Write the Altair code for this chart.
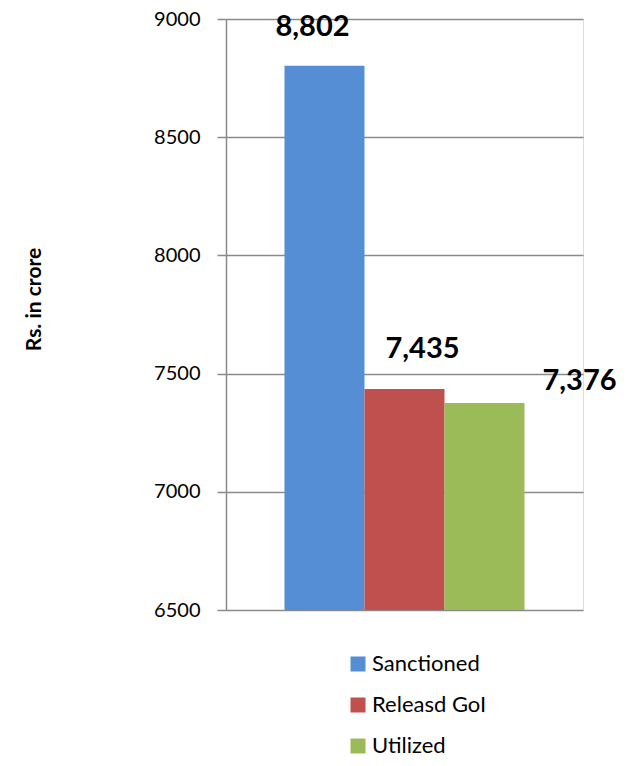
import altair as alt
import pandas as pd

categories = ["Sanctioned", "Releasd GoI", "Utilized"]
values = [8802, 7435, 7376]
colors = ["#558ED5", "#C0504D", "#9BBB59"]
y_ticks = [6500, 7000, 7500, 8000, 8500, 9000]

df = pd.DataFrame({"series": categories, "value": values})

# label offsets (styling, per series)
label_offsets = {
    "Sanctioned": (-12, -30),
    "Releasd GoI": (18, -31),
    "Utilized": (95, -13),
}

FONT = "Lato"

base = alt.Chart(df)

bars = base.mark_bar(clip=True).encode(
    x=alt.X("series:N", sort=categories, axis=None,
            scale=alt.Scale(paddingInner=0, paddingOuter=0.731)),
    y=alt.Y("value:Q",
            scale=alt.Scale(domain=[6500, 9000], zero=False, nice=False),
            axis=alt.Axis(values=y_ticks, format="d", title="Rs. in crore",
                          titleFont=FONT, titleFontSize=21, titleFontWeight="bold",
                          titleColor="black", titleAngle=-90,
                          titleX=-192, titleY=280, titleAlign="center",
                          titleBaseline="middle",
                          labelFont=FONT, labelFontSize=20, labelColor="black",
                          labelPadding=17, tickSize=9, tickColor="#8a8a8a",
                          tickWidth=1.5, domainColor="#8a8a8a", domainWidth=1.5,
                          grid=True, gridColor="#8a8a8a", gridWidth=1.5)),
    color=alt.Color("series:N", sort=categories,
                    scale=alt.Scale(domain=categories, range=colors),
                    legend=alt.Legend(title=None, orient="none", legendX=121,
                                      legendY=634, symbolType="square",
                                      symbolSize=225, symbolStrokeWidth=0,
                                      labelFont=FONT, labelFontSize=22,
                                      labelColor="black", rowPadding=19,
                                      labelOffset=3)),
)

labels = []
for cat in categories:
    dx, dy = label_offsets[cat]
    labels.append(
        base.transform_filter(alt.datum.series == cat).mark_text(
            font=FONT, fontSize=29, fontWeight="bold", color="black",
            baseline="alphabetic", align="center", dx=dx, dy=dy,
        ).encode(
            x=alt.X("series:N", sort=categories),
            y=alt.Y("value:Q"),
            text=alt.Text("value:Q", format=","),
        )
    )

chart = alt.layer(bars, *labels).properties(
    width=357, height=591,
    autosize=alt.AutoSizeParams(type="none"),
    padding={"left": 218, "top": 11, "right": 40, "bottom": 150},
).configure_view(stroke=None).configure(background="white")

chart.save("out.html", embed_options={"renderer": "svg", "actions": False})
